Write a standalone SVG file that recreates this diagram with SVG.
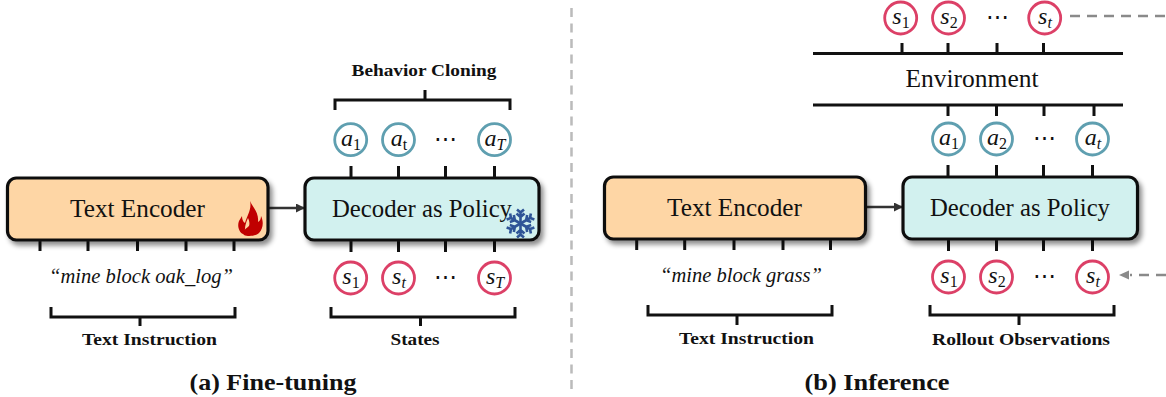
<svg xmlns="http://www.w3.org/2000/svg" width="1166" height="397" viewBox="0 0 1166 397">
<style>
text{font-family:"Liberation Serif","Times New Roman",serif;fill:#111}
.box{stroke:#111;stroke-width:3.2}
.enc{fill:#fed6a5}.dec{fill:#d2f1ef}
.name{font-size:25.500px;text-anchor:middle}
.lab{font-size:17.500px;font-weight:bold;text-anchor:middle}
.cap{font-size:23.500px;font-weight:bold;text-anchor:middle}
.quote{font-size:21px;font-style:italic;text-anchor:middle}
.t{stroke:#111;stroke-width:3;fill:none}
.a{fill:#fff;stroke:#5f9fb0;stroke-width:2.800}
.s{fill:#fff;stroke:#dc4067;stroke-width:2.800}
.m{font-size:24px;font-style:italic;text-anchor:middle}
.m tspan{font-size:16px}
.dots{font-size:23px;text-anchor:middle}
.d{stroke:#8a8a8a;stroke-width:2.500;stroke-dasharray:10 7;fill:none}
</style>
<defs>
<filter id="sh" x="-5%" y="-15%" width="112%" height="135%"><feDropShadow dx="3" dy="4" stdDeviation="2.500" flood-color="#000" flood-opacity=".45"/></filter>
<marker id="ar" markerWidth="10" markerHeight="10" refX="8" refY="4.500" orient="auto" markerUnits="userSpaceOnUse"><path d="M0 0L9 4.500L0 9z" fill="#333"/></marker>
</defs>

<g id="connectors">
<path d="M268 208H304" stroke="#333" stroke-width="2.500" marker-end="url(#ar)" fill="none"/>
<path d="M866 207H902" stroke="#333" stroke-width="2.500" marker-end="url(#ar)" fill="none"/>
<path class="t" d="M40 241v10M88 241v10M137.500 241v10M186 241v10M234 241v10"/>
<path class="t" d="M51 307v10H235V307M140 317v9"/>
<path class="t" d="M351 166v11M398.500 166v11M445.500 166v11M494.500 166v11"/>
<path class="t" d="M335 110V100H510V110M425 100V90"/>
<path class="t" d="M351 241v11M398.500 241v11M445.500 241v11M494.500 241v11"/>
<path class="t" d="M331 307v10H515V307M420.500 317v9"/>
<path d="M571.500 8V390" stroke="#bbb" stroke-width="2.500" stroke-dasharray="9 6.500" fill="none"/>
<path class="t" d="M902 43v10M948 43v10M997 43v10M1043.500 43v10"/>
<path class="t" d="M813 53.500H1123M813 105H1123"/>
<path class="t" d="M948 105v11M996.500 105v11M1044 105v11M1094 105v11"/>
<path class="t" d="M948 165v12M996.500 165v12M1043.500 165v12M1092.500 165v12"/>
<path class="t" d="M948.500 240v11M996.500 240v11M1043.500 240v11M1092.500 240v11"/>
<path class="t" d="M636.700 240v10M684.700 240v10M734 240v10M783 240v10M830.500 240v10"/>
<path class="t" d="M648 305v10H832V305M737 315v10"/>
<path class="t" d="M930 305v10H1114V305M1019 315v10"/>
<path class="d" d="M1070 16H1166"/>
<path class="d" d="M1166 275H1130"/>
<path d="M1119 275l10-4.500v9z" fill="#8a8a8a"/>
</g>

<g id="encoder-a">
<rect class="box enc" x="7.500" y="178" width="260.500" height="62" rx="9" filter="url(#sh)"/>
<text class="name" x="137.500" y="216.500" textLength="135" lengthAdjust="spacingAndGlyphs">Text Encoder</text>
<path d="M250 201C253 208 259 212 258 222C260 221 261 219 261 216C264 222 263 229 259 233C256 236 248 237 244 235C240 232 246 229 249 226C250 223 249 220 248 218C246 222 245 226 245 229L243 234C239 232 237 226 239 221C240 219 241 218 242 216C242 219 243 222 245 223C247 216 252 209 250 201Z" fill="#c00000"/>
</g>
<g id="decoder-a">
<rect class="box dec" x="305" y="178" width="234" height="62" rx="9" filter="url(#sh)"/>
<text class="name" x="422" y="216.500" textLength="180" lengthAdjust="spacingAndGlyphs">Decoder as Policy</text>
<g stroke="#2f5597" stroke-width="2.600" fill="none" transform="translate(520.500 223.500)">
<path id="arm" d="M0 0V-13M-4-10L0-6.500L4-10M-3.500-14L0-11L3.500-14"/>
<use href="#arm" transform="rotate(60)"/><use href="#arm" transform="rotate(120)"/><use href="#arm" transform="rotate(180)"/><use href="#arm" transform="rotate(240)"/><use href="#arm" transform="rotate(300)"/>
</g>
</g>

<g id="a-actions">
<circle class="a" cx="350.700" cy="139.700" r="16"/><text class="m" x="351" y="146">a<tspan dy="4" font-style="normal">1</tspan></text>
<circle class="a" cx="398.500" cy="139.700" r="16"/><text class="m" x="399" y="146">a<tspan dy="4" font-style="normal">t</tspan></text>
<text class="dots" x="445.500" y="146">⋯</text>
<circle class="a" cx="494.500" cy="139.700" r="16"/><text class="m" x="495" y="146">a<tspan dy="4">T</tspan></text>
</g>
<g id="a-states">
<circle class="s" cx="350.700" cy="278" r="16"/><text class="m" x="351" y="284">s<tspan dy="4" font-style="normal">1</tspan></text>
<circle class="s" cx="398.500" cy="278" r="16"/><text class="m" x="399" y="284">s<tspan dy="4">t</tspan></text>
<text class="dots" x="445.500" y="284">⋯</text>
<circle class="s" cx="494.500" cy="278" r="16"/><text class="m" x="495" y="284">s<tspan dy="4">T</tspan></text>
</g>
<g id="a-labels">
<text class="lab" x="424" y="76" textLength="145" lengthAdjust="spacingAndGlyphs">Behavior Cloning</text>
<text class="quote" x="141" y="283" textLength="184" lengthAdjust="spacingAndGlyphs">“mine block oak_log”</text>
<text class="lab" x="149.500" y="345" textLength="135" lengthAdjust="spacingAndGlyphs">Text Instruction</text>
<text class="lab" x="415" y="345" textLength="49" lengthAdjust="spacingAndGlyphs">States</text>
<text class="cap" x="273" y="390" textLength="167" lengthAdjust="spacingAndGlyphs">(a) Fine-tuning</text>
</g>

<g id="encoder-b">
<rect class="box enc" x="604.500" y="177" width="261" height="62" rx="9" filter="url(#sh)"/>
<text class="name" x="734.500" y="215.500" textLength="135" lengthAdjust="spacingAndGlyphs">Text Encoder</text>
</g>
<g id="decoder-b">
<rect class="box dec" x="903" y="177" width="234.500" height="62" rx="9" filter="url(#sh)"/>
<text class="name" x="1020" y="215.500" textLength="180" lengthAdjust="spacingAndGlyphs">Decoder as Policy</text>
</g>
<g id="environment">
<text class="name" x="972" y="87" textLength="133" lengthAdjust="spacingAndGlyphs">Environment</text>
</g>
<g id="b-env-states">
<circle class="s" cx="900.700" cy="18" r="16"/><text class="m" x="901" y="24">s<tspan dy="4" font-style="normal">1</tspan></text>
<circle class="s" cx="948.500" cy="18" r="16"/><text class="m" x="949" y="24">s<tspan dy="4" font-style="normal">2</tspan></text>
<text class="dots" x="997" y="24">⋯</text>
<circle class="s" cx="1044.700" cy="18" r="16"/><text class="m" x="1045" y="24">s<tspan dy="4">t</tspan></text>
</g>
<g id="b-actions">
<circle class="a" cx="948.500" cy="139" r="16"/><text class="m" x="949" y="145">a<tspan dy="4" font-style="normal">1</tspan></text>
<circle class="a" cx="996.500" cy="139" r="16"/><text class="m" x="997" y="145">a<tspan dy="4" font-style="normal">2</tspan></text>
<text class="dots" x="1044.500" y="145">⋯</text>
<circle class="a" cx="1092.500" cy="139" r="16"/><text class="m" x="1093" y="145">a<tspan dy="4">t</tspan></text>
</g>
<g id="b-states">
<circle class="s" cx="948.500" cy="277" r="16"/><text class="m" x="949" y="283">s<tspan dy="4" font-style="normal">1</tspan></text>
<circle class="s" cx="996.500" cy="277" r="16"/><text class="m" x="997" y="283">s<tspan dy="4" font-style="normal">2</tspan></text>
<text class="dots" x="1044.500" y="283">⋯</text>
<circle class="s" cx="1092.500" cy="277" r="16"/><text class="m" x="1093" y="283">s<tspan dy="4">t</tspan></text>
</g>
<g id="b-labels">
<text class="quote" x="741" y="281.500" textLength="162" lengthAdjust="spacingAndGlyphs">“mine block grass”</text>
<text class="lab" x="746.500" y="344" textLength="135" lengthAdjust="spacingAndGlyphs">Text Instruction</text>
<text class="lab" x="1021" y="345" textLength="178" lengthAdjust="spacingAndGlyphs">Rollout Observations</text>
<text class="cap" x="877" y="390" textLength="145" lengthAdjust="spacingAndGlyphs">(b) Inference</text>
</g>
</svg>
